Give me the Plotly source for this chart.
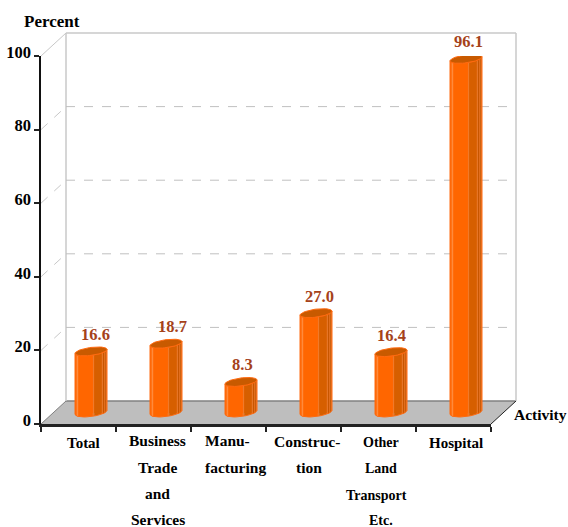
import numpy as np
import plotly.graph_objects as go

categories = ["Total", "Business Trade and Services", "Manufacturing", "Construction",
              "Other Land Transport Etc.", "Hospital"]
values = [16.6, 18.7, 8.3, 27.0, 16.4, 96.1]
y_ticks = [0, 20, 40, 60, 80, 100]
label_lines = [["Total"], ["Business", "Trade", "and", "Services"], ["Manu-", "facturing"],
               ["Construc-", "tion"], ["Other", "Land", "Transport", "Etc."], ["Hospital"]]

# layout only: pixel nudges for hand-placed text
line_dx = [[5], [4, 4, 4, 4], [-1, 7], [3, 5], [2, 2, -2, 2], [2]]
line_y = [[19], [16, 43, 69, 95], [16, 43], [17, 43], [18, 44, 71, 96], [19]]
line_size = [15, 15.5, 15.5, 15.5, 14, 15]
value_dx = [4.5, 6.5, 1.5, 3.5, 0.5, 2.5]

W, H = 568, 527
L, R, T, B = 41, 491, 56, 424
PX_X = (R - L) / 6
PX_Y = (B - T) / 100
DEPTH_X = 25 / PX_X
DEPTH_Y = 23 / PX_Y

# cylinder geometry in data units
A = 16 / PX_X
E = 4.0 / PX_Y
TILT = 2 / PX_Y


def low(u):
    return TILT * u - E * np.sqrt(np.clip(1 - u ** 2, 0, 1))


def band(cx, base, top, u0, u1):
    us = np.linspace(u0, u1, 15)
    xs = cx + A * us
    return (list(xs) + list(xs[::-1]) + [None],
            list(top + low(us)) + list((base + low(us))[::-1]) + [None])


BANDS = [
    (-1.0, 0.12, "#FF6600"),
    (-0.90, -0.80, "#FF8A3C"),
    (0.12, 0.20, "#F07A2A"),
    (0.20, 0.68, "#D65F00"),
    (0.68, 0.74, "#E8803A"),
    (0.74, 0.82, "#C85600"),
    (0.82, 0.88, "#E07020"),
    (0.88, 0.94, "#C85600"),
    (0.94, 1.0, "#E07020"),
]

fig = go.Figure()
centers = [i + 0.5 + DEPTH_X / 2 for i in range(len(values))]
base = DEPTH_Y / 2

fig.add_trace(go.Bar(x=centers, y=values, base=base, width=28 / PX_X,
                     marker=dict(color="#FF6600", line_width=0), cliponaxis=False,
                     hoverinfo="skip", showlegend=False))

for u0, u1, color in BANDS:
    xs, ys = [], []
    for c, v in zip(centers, values):
        a, b = band(c, base, base + v, u0, u1)
        xs += a
        ys += b
    fig.add_trace(go.Scatter(x=xs, y=ys, mode="lines", fill="toself", fillcolor=color,
                             line=dict(width=0, color=color), cliponaxis=False,
                             hoverinfo="skip", showlegend=False))

# body outline and top cap
t = np.linspace(0, 2 * np.pi, 61)
xs_o, ys_o, xs_c, ys_c = [], [], [], []
for c, v in zip(centers, values):
    a, b = band(c, base, base + v, -1, 1)
    xs_o += a[:-1] + [a[0], None]
    ys_o += b[:-1] + [b[0], None]
    xs_c += list(c + A * np.cos(t)) + [None]
    ys_c += list(base + v + E * np.sin(t) + TILT * np.cos(t)) + [None]
fig.add_trace(go.Scatter(x=xs_o, y=ys_o, mode="lines", line=dict(width=1, color="#FF6A10"),
                         cliponaxis=False, hoverinfo="skip", showlegend=False))
fig.add_trace(go.Scatter(x=xs_c, y=ys_c, mode="lines", fill="toself", fillcolor="#C85A00",
                         line=dict(width=1, color="#FF6A10"), cliponaxis=False,
                         hoverinfo="skip", showlegend=False))


# room: walls, grid and floor, placed in axis-fraction coordinates
def px(x):
    return x / 6


def py(v):
    return v / 100


def seg(x0, y0, x1, y1, color, width=1, dash="solid"):
    return dict(type="line", xref="paper", yref="paper", x0=px(x0), y0=py(y0), x1=px(x1), y1=py(y1),
                layer="below", line=dict(color=color, width=width, dash=dash))


WALL = "#C8C8C8"
shapes = [
    dict(type="path", xref="paper", yref="paper", layer="below", fillcolor="#BEBEBE",
         line=dict(width=0),
         path=f"M {px(0)} {py(0)} L {px(6)} {py(0)} L {px(6 + DEPTH_X)} {py(DEPTH_Y)} "
              f"L {px(DEPTH_X)} {py(DEPTH_Y)} Z"),
    seg(DEPTH_X, DEPTH_Y, 6 + DEPTH_X, DEPTH_Y, "#808080", 1.5),
    seg(DEPTH_X, DEPTH_Y, DEPTH_X, 100 + DEPTH_Y, WALL, 1.5),
    seg(DEPTH_X, 100 + DEPTH_Y, 6 + DEPTH_X, 100 + DEPTH_Y, WALL, 1.5),
    seg(6 + DEPTH_X, DEPTH_Y, 6 + DEPTH_X, 100 + DEPTH_Y, WALL, 1.5),
    seg(0, 100, DEPTH_X, 100 + DEPTH_Y, WALL, 1),
    seg(0, 0, DEPTH_X, DEPTH_Y, "#808080", 1),
    seg(6, 0, 6 + DEPTH_X, DEPTH_Y, "#222222", 1),
]
for v in y_ticks[1:-1]:
    shapes.append(seg(DEPTH_X, v + DEPTH_Y, 6 + DEPTH_X, v + DEPTH_Y, "#C0C0C0", 1, "dash"))
    shapes.append(seg(0, v, DEPTH_X, v + DEPTH_Y, "#C8C8C8", 1, "dash"))

SERIF = "Liberation Serif"
annotations = [
    dict(xref="paper", yref="paper", x=px(0), y=py(100), xshift=11, yshift=35, text="<b>Percent</b>",
         showarrow=False, font=dict(family=SERIF, size=17, color="#000"), xanchor="center", yanchor="middle"),
    dict(xref="paper", yref="paper", x=px(6), y=py(0), xshift=49, yshift=10, text="<b>Activity</b>",
         showarrow=False, font=dict(family=SERIF, size=15.5, color="#000"), xanchor="center", yanchor="middle"),
]
for i, lines in enumerate(label_lines):
    for line, dx, dy in zip(lines, line_dx[i], line_y[i]):
        annotations.append(dict(xref="x", yref="y", x=i + 0.5, y=0, xshift=dx, yshift=-dy,
                                text=f"<b>{line}</b>", showarrow=False, xanchor="center", yanchor="middle",
                                font=dict(family=SERIF, size=line_size[i], color="#000")))
# value labels
for c, v, d in zip(centers, values, value_dx):
    annotations.append(dict(xref="x", yref="y", x=c, y=v, xshift=d, yshift=23 / 2 + 17,
                            text=f"<b>{v:.1f}</b>", showarrow=False, xanchor="center", yanchor="middle",
                            font=dict(family=SERIF, size=16.5, color="#A5421A")))

fig.update_layout(
    width=W, height=H, margin=dict(l=L, r=W - R, t=T, b=H - B, pad=0, autoexpand=False),
    plot_bgcolor="rgba(0,0,0,0)", paper_bgcolor="white", showlegend=False, bargap=0,
    shapes=shapes, annotations=annotations,
    xaxis=dict(range=[0, 6], tickvals=list(range(7)), showticklabels=False, ticks="outside", ticklen=5,
               tickwidth=1.5, tickcolor="#222", showline=True, linecolor="#222", linewidth=2.5,
               showgrid=False, zeroline=False, automargin=False),
    yaxis=dict(range=[0, 100], tickvals=y_ticks, ticks="outside", ticklen=5, tickwidth=1.5, tickcolor="#222",
               showline=True, linecolor="#111", linewidth=1.5, showgrid=False, zeroline=False, automargin=False,
               tickfont=dict(family=SERIF, size=16.5, color="#000", weight="bold"),
               ticklabelshift=-4, ticklabelstandoff=0),
)

fig.write_html("out.html", config={"displayModeBar": False},
               post_script="document.body.style.margin='0';")
